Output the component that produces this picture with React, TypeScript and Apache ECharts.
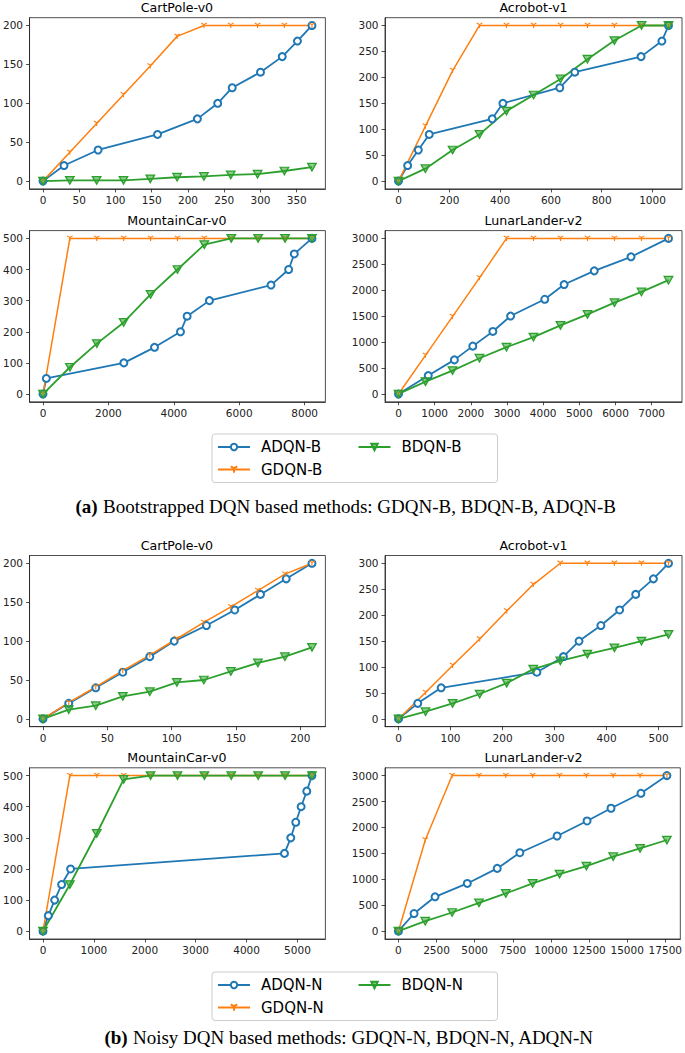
import React, { useEffect, useRef } from 'react';
import * as echarts from 'echarts';

// ---------- (a) Bootstrapped DQN ----------
const CART_B_ADQN = [[0, 0], [29, 20], [76, 40], [158, 60], [213, 80], [241, 100], [261, 120], [300, 140], [330, 160], [351, 180], [371, 200]];
const CART_B_GDQN = [[0, 0], [37, 37], [74, 74], [111, 111], [148, 148], [185, 186], [222, 200], [259, 200], [296, 200], [333, 200], [371, 200]];
const CART_B_BDQN = [[0, 0], [37, 1], [74, 1], [111, 1], [148, 3], [185, 5], [222, 6], [259, 8], [296, 9], [333, 13], [371, 18]];

const ACRO_B_ADQN = [[0, 0], [36, 30], [78, 60], [121, 90], [369, 120], [411, 150], [635, 180], [694, 210], [955, 240], [1037, 270], [1063, 300]];
const ACRO_B_GDQN = [[0, 0], [106, 106], [213, 213], [319, 300], [425, 300], [532, 300], [638, 300], [744, 300], [850, 300], [957, 300], [1063, 300]];
const ACRO_B_BDQN = [[0, 0], [106, 24], [213, 60], [319, 90], [425, 135], [532, 166], [638, 197], [744, 235], [850, 271], [957, 300], [1063, 300]];

const MC_B_ADQN = [[0, 0], [102, 50], [2473, 100], [3410, 150], [4204, 200], [4407, 250], [5089, 300], [6972, 350], [7511, 400], [7684, 450], [8224, 500]];
const MC_B_GDQN = [[0, 0], [822, 500], [1645, 500], [2467, 500], [3290, 500], [4112, 500], [4934, 500], [5757, 500], [6579, 500], [7402, 500], [8224, 500]];
const MC_B_BDQN = [[0, 0], [822, 86], [1645, 162], [2467, 230], [3290, 320], [4112, 400], [4934, 480], [5757, 500], [6579, 500], [7402, 500], [8224, 500]];

const LL_B_ADQN = [[0, 0], [823, 355], [1545, 658], [2054, 923], [2609, 1206], [3099, 1503], [4043, 1826], [4579, 2110], [5412, 2374], [6429, 2645], [7465, 3000]];
const LL_B_GDQN = [[0, 0], [746, 746], [1493, 1493], [2239, 2239], [2986, 3000], [3732, 3000], [4479, 3000], [5225, 3000], [5972, 3000], [6718, 3000], [7465, 3000]];
const LL_B_BDQN = [[0, 0], [746, 239], [1493, 452], [2239, 690], [2986, 903], [3732, 1097], [4479, 1323], [5225, 1535], [5972, 1761], [6718, 1968], [7465, 2194]];

// ---------- (b) Noisy DQN ----------
const CART_N_ADQN = [[0, 0], [20, 20], [41, 40], [62, 60], [83, 80], [102, 100], [127, 120], [149, 140], [169, 160], [189, 180], [209, 200]];
const CART_N_GDQN = [[0, 0], [20, 21], [41, 41], [62, 62], [83, 82], [104, 103], [125, 124], [146, 144], [167, 165], [188, 186], [209, 200]];
const CART_N_BDQN = [[0, 0], [20, 12], [41, 17], [62, 29], [83, 35], [104, 47], [125, 50], [146, 61], [167, 72], [188, 80], [209, 92]];

const ACRO_N_ADQN = [[0, 0], [37, 30], [82, 60], [266, 90], [317, 120], [347, 150], [389, 180], [425, 210], [456, 240], [490, 270], [519, 300]];
const ACRO_N_GDQN = [[0, 0], [52, 51], [104, 103], [156, 154], [208, 208], [259, 259], [311, 300], [363, 300], [415, 300], [467, 300], [519, 300]];
const ACRO_N_BDQN = [[0, 0], [52, 14], [104, 30], [156, 48], [208, 69], [259, 96], [311, 112], [363, 125], [415, 137], [467, 150], [519, 163]];

const MC_N_ADQN = [[0, 0], [105, 50], [229, 100], [366, 150], [542, 200], [4745, 250], [4869, 300], [4967, 350], [5072, 400], [5183, 450], [5285, 500]];
const MC_N_GDQN = [[0, 0], [528, 500], [1057, 500], [1585, 500], [2114, 500], [2642, 500], [3171, 500], [3699, 500], [4228, 500], [4756, 500], [5285, 500]];
const MC_N_BDQN = [[0, 0], [528, 150], [1057, 314], [1585, 488], [2114, 500], [2642, 500], [3171, 500], [3699, 500], [4228, 500], [4756, 500], [5285, 500]];

const LL_N_ADQN = [[0, 0], [1025, 341], [2400, 663], [4516, 921], [6479, 1211], [7962, 1513], [10405, 1835], [12369, 2125], [13940, 2370], [15903, 2659], [17605, 3000]];
const LL_N_GDQN = [[0, 0], [1760, 1758], [3521, 3000], [5281, 3000], [7042, 3000], [8802, 3000], [10563, 3000], [12323, 3000], [14084, 3000], [15844, 3000], [17605, 3000]];
const LL_N_BDQN = [[0, 0], [1760, 193], [3521, 361], [5281, 547], [7042, 728], [8802, 921], [10563, 1101], [12323, 1256], [14084, 1436], [15844, 1597], [17605, 1758]];

// ---------- ticks ----------
const CART_B_XTICKS = [0, 50, 100, 150, 200, 250, 300, 350];
const ACRO_B_XTICKS = [0, 200, 400, 600, 800, 1000];
const MC_B_XTICKS = [0, 2000, 4000, 6000, 8000];
const LL_B_XTICKS = [0, 1000, 2000, 3000, 4000, 5000, 6000, 7000];
const CART_N_XTICKS = [0, 50, 100, 150, 200];
const ACRO_N_XTICKS = [0, 100, 200, 300, 400, 500];
const MC_N_XTICKS = [0, 1000, 2000, 3000, 4000, 5000];
const LL_N_XTICKS = [0, 2500, 5000, 7500, 10000, 12500, 15000, 17500];
const CART_YTICKS = [0, 50, 100, 150, 200];
const ACRO_YTICKS = [0, 50, 100, 150, 200, 250, 300];
const MC_YTICKS = [0, 100, 200, 300, 400, 500];
const LL_YTICKS = [0, 500, 1000, 1500, 2000, 2500, 3000];

const TITLES = ['CartPole-v0', 'Acrobot-v1', 'MountainCar-v0', 'LunarLander-v2'];
const NAMES_B = ['ADQN-B', 'GDQN-B', 'BDQN-B'];
const NAMES_N = ['ADQN-N', 'GDQN-N', 'BDQN-N'];
const CAPTION_A = ' Bootstrapped DQN based methods: GDQN-B, BDQN-B, ADQN-B';
const CAPTION_B = ' Noisy DQN based methods: GDQN-N, BDQN-N, ADQN-N';

const PANELS = [
  { title: TITLES[0], names: NAMES_B, series: [CART_B_ADQN, CART_B_GDQN, CART_B_BDQN], xt: CART_B_XTICKS, yt: CART_YTICKS },
  { title: TITLES[1], names: NAMES_B, series: [ACRO_B_ADQN, ACRO_B_GDQN, ACRO_B_BDQN], xt: ACRO_B_XTICKS, yt: ACRO_YTICKS },
  { title: TITLES[2], names: NAMES_B, series: [MC_B_ADQN, MC_B_GDQN, MC_B_BDQN], xt: MC_B_XTICKS, yt: MC_YTICKS },
  { title: TITLES[3], names: NAMES_B, series: [LL_B_ADQN, LL_B_GDQN, LL_B_BDQN], xt: LL_B_XTICKS, yt: LL_YTICKS },
  { title: TITLES[0], names: NAMES_N, series: [CART_N_ADQN, CART_N_GDQN, CART_N_BDQN], xt: CART_N_XTICKS, yt: CART_YTICKS },
  { title: TITLES[1], names: NAMES_N, series: [ACRO_N_ADQN, ACRO_N_GDQN, ACRO_N_BDQN], xt: ACRO_N_XTICKS, yt: ACRO_YTICKS },
  { title: TITLES[2], names: NAMES_N, series: [MC_N_ADQN, MC_N_GDQN, MC_N_BDQN], xt: MC_N_XTICKS, yt: MC_YTICKS },
  { title: TITLES[3], names: NAMES_N, series: [LL_N_ADQN, LL_N_GDQN, LL_N_BDQN], xt: LL_N_XTICKS, yt: LL_YTICKS },
];

// layout (pixels)
const GRID_W = 297;
const GRID_H = 171.2;
const COL_LEFT = [28.4, 385];
const ROW_TOP = [17.7, 230.6, 555.5, 767.8];

const BLUE = '#1f77b4';
const ORANGE = '#ff7f0e';
const GREEN = '#2ca02c';
const AXIS = '#222';
const FONT = 'DejaVu Sans';
const TRI_DOWN = 'path://M0 0L0 6M0 0L-5.196 -3M0 0L5.196 -3';

function paddedRange(series: number[][][], idx: number): [number, number] {
  let mn = Infinity;
  let mx = -Infinity;
  series.forEach((s) => s.forEach((p) => { mn = Math.min(mn, p[idx]); mx = Math.max(mx, p[idx]); }));
  const m = (mx - mn) * 0.05;
  return [mn - m, mx + m];
}

const plain = (v: number) => String(v);

function buildOption() {
  const grid: any[] = [];
  const xAxis: any[] = [];
  const yAxis: any[] = [];
  const series: any[] = [];
  const graphic: any[] = [];

  PANELS.forEach((p, i) => {
    const left = COL_LEFT[i % 2];
    const top = ROW_TOP[Math.floor(i / 2)];
    grid.push({ left, top, width: GRID_W, height: GRID_H, show: true, borderColor: AXIS, borderWidth: 0.8, backgroundColor: 'transparent' });
    const xr = paddedRange(p.series, 0);
    const yr = paddedRange(p.series, 1);
    const common = {
      type: 'value',
      gridIndex: i,
      splitLine: { show: false },
      axisLine: { show: true, onZero: false, lineStyle: { color: AXIS, width: 0.8 } },
    };
    xAxis.push({
      ...common,
      min: xr[0], max: xr[1],
      axisTick: { show: true, length: 3.5, lineStyle: { color: AXIS, width: 0.8 }, customValues: p.xt },
      axisLabel: { customValues: p.xt, formatter: plain, fontFamily: FONT, fontSize: 10.5, color: AXIS, margin: 5.5 },
    });
    yAxis.push({
      ...common,
      min: yr[0], max: yr[1],
      axisTick: { show: true, length: 3.5, lineStyle: { color: AXIS, width: 0.8 }, customValues: p.yt },
      axisLabel: { customValues: p.yt, formatter: plain, fontFamily: FONT, fontSize: 10.5, color: AXIS, margin: 6.5 },
    });
    const [a, g, b] = p.series;
    series.push({
      type: 'line', name: p.names[0], data: a, xAxisIndex: i, yAxisIndex: i,
      color: BLUE, symbol: 'emptyCircle', symbolSize: 7,
      lineStyle: { color: BLUE, width: 1.8 },
      itemStyle: { color: BLUE, borderColor: BLUE, borderWidth: 1.6 },
      silent: true,
    });
    series.push({
      type: 'line', name: p.names[1], data: g, xAxisIndex: i, yAxisIndex: i,
      color: ORANGE, symbol: TRI_DOWN, symbolSize: [5.5, 5],
      lineStyle: { color: ORANGE, width: 1.5 },
      itemStyle: { color: ORANGE, borderColor: ORANGE, borderWidth: 1.1 },
      silent: true,
    });
    series.push({
      type: 'line', name: p.names[2], data: b, xAxisIndex: i, yAxisIndex: i,
      color: GREEN, symbol: 'triangle', symbolRotate: 180, symbolSize: [8.5, 7.5],
      lineStyle: { color: GREEN, width: 1.8 },
      itemStyle: { color: 'rgba(44,160,44,0.55)', borderColor: GREEN, borderWidth: 1.3 },
      silent: true,
    });
    graphic.push({
      type: 'text',
      x: left + GRID_W / 2,
      y: top - 10.5,
      silent: true,
      style: {
        text: p.title, fontFamily: FONT, fontSize: 12.6, fill: '#000',
        align: 'center', verticalAlign: 'middle', textAlign: 'center', textVerticalAlign: 'middle',
      },
    });
  });

  const captionStyle = (label: string, text: string) => ({
    text: '{b|' + label + '}' + text,
    fontFamily: 'Liberation Serif', fontSize: 19, fill: '#000',
    align: 'center', verticalAlign: 'middle', textAlign: 'center', textVerticalAlign: 'middle',
    rich: { b: { fontFamily: 'Liberation Serif', fontSize: 19, fontWeight: 'bold', fill: '#000' } },
  });
  graphic.push({ type: 'text', x: 346, y: 506, silent: true, style: captionStyle('(a)', CAPTION_A) });
  graphic.push({ type: 'text', x: 349, y: 1037, silent: true, style: captionStyle('(b)', CAPTION_B) });

  const legendBase = {
    orient: 'vertical',
    height: 45,
    itemWidth: 32,
    itemHeight: 8,
    itemGap: 6.5,
    padding: [5, 6, 5, 5],
    borderColor: '#ccc',
    borderWidth: 1,
    borderRadius: 3,
    backgroundColor: '#fff',
    selectedMode: false,
    textStyle: { fontFamily: FONT, fontSize: 15, color: '#000', lineHeight: 16, width: 90, padding: [0, 0, 0, 6] },
  };

  return {
    animation: false,
    grid,
    xAxis,
    yAxis,
    series,
    graphic,
    legend: [
      { ...legendBase, left: 212, top: 434, data: NAMES_B },
      { ...legendBase, left: 212, top: 972, data: NAMES_N },
    ],
  };
}

export default function App() {
  const ref = useRef<HTMLDivElement>(null);
  useEffect(() => {
    if (!ref.current) return;
    const chart = echarts.init(ref.current, undefined, { renderer: 'svg' });
    chart.setOption(buildOption() as any);
    return () => chart.dispose();
  }, []);
  return <div ref={ref} style={{ position: 'absolute', left: 0, top: 0, width: 685, height: 1053, background: '#fff' }} />;
}
